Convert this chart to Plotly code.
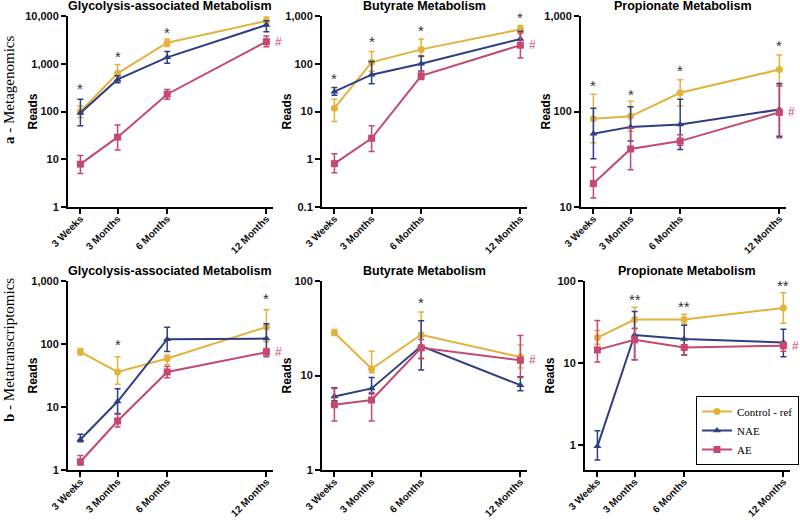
import math
import plotly.graph_objects as go

# ---------------- data ----------------
months = [0.75, 3, 6, 12]
x_labels = ["3 Weeks", "3 Months", "6 Months", "12 Months"]
series_names = ["Control - ref", "NAE", "AE"]
panel_titles = ["Glycolysis-associated Metabolism", "Butyrate Metabolism", "Propionate Metabolism",
                "Glycolysis-associated Metabolism", "Butyrate Metabolism", "Propionate Metabolism"]
row_labels = ["<b>a</b> - Metagenomics", "<b>b</b> - Metatranscriptomics"]

# Panel 1: Glycolysis, metagenomics
p1_ctrl = [100, 630, 2750, 7900];  p1_ctrl_hi = [130, 970, 3300, 9500];  p1_ctrl_lo = [75, 420, 2300, 6500]
p1_nae = [93, 470, 1360, 6500];    p1_nae_hi = [180, 560, 1800, 8000];    p1_nae_lo = [50, 400, 1030, 4700]
p1_ae = [7.9, 29, 230, 2900];      p1_ae_hi = [12, 52, 290, 3800];        p1_ae_lo = [5, 15.6, 180, 2280]
p1_stars = [300, 1400, 4500, 11000]

# Panel 2: Butyrate, metagenomics
p2_ctrl = [11.7, 107, 200, 525];   p2_ctrl_hi = [18, 180, 330, 630];      p2_ctrl_lo = [6.2, 70, 140, 420]
p2_nae = [26, 59, 100, 330];       p2_nae_hi = [32, 112, 145, 480];       p2_nae_lo = [22, 38, 70, 250]
p2_ae = [0.81, 2.75, 56, 245];     p2_ae_hi = [1.3, 5, 70, 450];          p2_ae_lo = [0.52, 1.45, 47, 132]
p2_stars = [49, 290, 500, 920]

# Panel 3: Propionate, metagenomics
p3_ctrl = [84, 89, 157, 275];      p3_ctrl_hi = [152, 128, 215, 390];     p3_ctrl_lo = [47, 62, 114, 190]
p3_nae = [58.5, 69, 73, 105];      p3_nae_hi = [108, 112, 134, 196];      p3_nae_lo = [32, 49, 40, 55]
p3_ae = [17.6, 40.5, 49, 98];      p3_ae_hi = [26, 67, 57, 185];          p3_ae_lo = [12.4, 24.5, 44, 53]
p3_stars = [185, 152, 268, 490]

# Panel 4: Glycolysis, metatranscriptomics
p4_ctrl = [75, 36, 59, 186];       p4_ctrl_hi = [85, 63, 67, 350];        p4_ctrl_lo = [67, 23, 47, 108]
p4_nae = [3.05, 12.2, 119, 122];   p4_nae_hi = [3.7, 19.5, 185, 210];     p4_nae_lo = [2.8, 7.9, 76, 76]
p4_ae = [1.35, 6.0, 36, 74];       p4_ae_hi = [1.7, 7.7, 44, 85];         p4_ae_lo = [1.2, 4.8, 29, 63]
p4_stars = [None, 100, None, 530]

# Panel 5: Butyrate, metatranscriptomics
p5_ctrl = [28.3, 11.8, 27, 15.7];  p5_ctrl_hi = [30.7, 18.1, 47, 21];     p5_ctrl_lo = [26.5, 10.7, 15.4, 12]
p5_nae = [6.0, 7.3, 20.5, 7.9];    p5_nae_hi = [7.4, 9.5, 38, 9.7];       p5_nae_lo = [5.4, 6.4, 11.4, 6.9]
p5_ae = [4.9, 5.5, 19.6, 14.5];    p5_ae_hi = [7.3, 6.6, 24, 26.5];       p5_ae_lo = [3.3, 3.3, 15, 9.5]
p5_stars = [None, None, 59, None]

# Panel 6: Propionate, metatranscriptomics
p6_ctrl = [20.5, 34, 34, 47];      p6_ctrl_hi = [25, 48, 39.4, 72];       p6_ctrl_lo = [17, 26, 30, 30.5]
p6_nae = [0.97, 22, 19.7, 17.8];   p6_nae_hi = [1.5, 42.5, 29, 25.8];     p6_nae_lo = [0.66, 11, 12.6, 12]
p6_ae = [14.5, 19.2, 15.5, 16.3];  p6_ae_hi = [33, 26.5, 16.4, 18];       p6_ae_lo = [10.3, 11, 12.6, 14]
p6_stars = [None, 59, 49, 87]

star_text = ["*", "*", "*", "*", "*", "**"]

y_ranges = [(1, 10000), (0.1, 1000), (10, 1000), (1, 1000), (1, 100), (0.5, 100)]
y_tickvals = [[1, 10, 100, 1000, 10000], [0.1, 1, 10, 100, 1000], [10, 100, 1000],
              [1, 10, 100, 1000], [1, 10, 100], [1, 10, 100]]
y_ticktext = [["1", "10", "100", "1,000", "10,000"], ["0.1", "1", "10", "100", "1,000"],
              ["10", "100", "1,000"], ["1", "10", "100", "1,000"], ["1", "10", "100"], ["1", "10", "100"]]

panels = [
    (p1_ctrl, p1_ctrl_hi, p1_ctrl_lo, p1_nae, p1_nae_hi, p1_nae_lo, p1_ae, p1_ae_hi, p1_ae_lo, p1_stars),
    (p2_ctrl, p2_ctrl_hi, p2_ctrl_lo, p2_nae, p2_nae_hi, p2_nae_lo, p2_ae, p2_ae_hi, p2_ae_lo, p2_stars),
    (p3_ctrl, p3_ctrl_hi, p3_ctrl_lo, p3_nae, p3_nae_hi, p3_nae_lo, p3_ae, p3_ae_hi, p3_ae_lo, p3_stars),
    (p4_ctrl, p4_ctrl_hi, p4_ctrl_lo, p4_nae, p4_nae_hi, p4_nae_lo, p4_ae, p4_ae_hi, p4_ae_lo, p4_stars),
    (p5_ctrl, p5_ctrl_hi, p5_ctrl_lo, p5_nae, p5_nae_hi, p5_nae_lo, p5_ae, p5_ae_hi, p5_ae_lo, p5_stars),
    (p6_ctrl, p6_ctrl_hi, p6_ctrl_lo, p6_nae, p6_nae_hi, p6_nae_lo, p6_ae, p6_ae_hi, p6_ae_lo, p6_stars),
]

# ---------------- styling ----------------
W, H = 800, 521
colors = ["#E3B23C", "#2D3E82", "#C4486F"]
symbols = ["circle", "triangle-up", "square"]
SANS = "Liberation Sans, Arial, sans-serif"
SERIF = "Liberation Serif, Times New Roman, serif"

# pixel boxes: (x0, x1, ytop, ybottom)
boxes = [(68, 273, 16, 207), (322, 527, 16, 207), (581, 786, 16, 207),
         (68, 273, 281, 470), (322, 527, 281, 470), (585, 790, 281, 470)]

fig = go.Figure()
layout = dict(width=W, height=H, margin=dict(l=0, r=0, t=0, b=0, autoexpand=False),
              paper_bgcolor="white", plot_bgcolor="white", showlegend=True)
annotations = []

for i, (box, pdata) in enumerate(zip(boxes, panels)):
    n = i + 1
    xa = "x" if n == 1 else f"x{n}"
    ya = "y" if n == 1 else f"y{n}"
    x0, x1, yt, yb = box
    series = [(pdata[0], pdata[1], pdata[2]), (pdata[3], pdata[4], pdata[5]), (pdata[6], pdata[7], pdata[8])]
    for k, (vals, hi, lo) in enumerate(series):
        fig.add_trace(go.Scatter(
            x=months, y=vals, xaxis=xa, yaxis=ya, mode="lines+markers",
            name=series_names[k], legendgroup=series_names[k], showlegend=(i == 5),
            line=dict(color=colors[k], width=2),
            marker=dict(symbol=symbols[k], size=7, color=colors[k]),
            error_y=dict(type="data", symmetric=False,
                         array=[h - v for h, v in zip(hi, vals)],
                         arrayminus=[v - l for v, l in zip(vals, lo)],
                         color=colors[k], thickness=1.5, width=3),
        ))
    lo_r, hi_r = y_ranges[i]
    layout["xaxis" if n == 1 else f"xaxis{n}"] = dict(
        domain=[x0 / W, x1 / W], anchor=ya, range=[0, 12.4], automargin=False,
        tickvals=months, ticktext=["<b>" + t + "</b>" for t in x_labels], tickangle=-45,
        tickfont=dict(family=SANS, size=10, color="#111"), ticklabelstandoff=-5,
        showline=True, linecolor="black", linewidth=2, ticks="outside",
        ticklen=5, tickwidth=2, tickcolor="black", showgrid=False, zeroline=False)
    layout["yaxis" if n == 1 else f"yaxis{n}"] = dict(
        domain=[1 - yb / H, 1 - yt / H], anchor=xa, type="log", automargin=False,
        range=[math.log10(lo_r), math.log10(hi_r)],
        tickvals=y_tickvals[i], ticktext=["<b>" + t + "</b>" for t in y_ticktext[i]],
        tickfont=dict(family=SANS, size=11, color="#111"),
        showline=True, linecolor="black", linewidth=2, ticks="outside",
        ticklen=5, tickwidth=2, tickcolor="black", showgrid=False, zeroline=False)
    # title
    annotations.append(dict(text="<b>" + panel_titles[i] + "</b>", xref="paper", yref="paper",
                            x=(x0 + 102) / W, y=1 - (yt - 10) / H, xanchor="center", yanchor="middle",
                            showarrow=False, font=dict(family=SANS, size=12.5, color="black")))
    # y title
    annotations.append(dict(text="<b>Reads</b>", xref="paper", yref="paper",
                            x=(x0 - 36) / W, y=1 - ((yt + yb) / 2) / H, xanchor="center", yanchor="middle",
                            textangle=-90, showarrow=False, font=dict(family=SANS, size=12, color="black")))
    # significance marks
    for xm, s in zip(months, pdata[9]):
        if s is not None:
            annotations.append(dict(text=star_text[i], xref=xa, yref=ya, x=xm, y=math.log10(s),
                                    xanchor="center", yanchor="middle", showarrow=False,
                                    font=dict(family=SANS, size=15, color="#333")))
    # '#' next to AE at 12 months
    annotations.append(dict(text="#", xref=xa, yref=ya, x=months[-1], y=math.log10(pdata[6][-1]),
                            xanchor="left", yanchor="middle", xshift=7, showarrow=False,
                            font=dict(family=SANS, size=12, color=colors[2])))

# row labels
annotations.append(dict(text=row_labels[0], xref="paper", yref="paper", x=9 / W, y=1 - 90 / H,
                        xanchor="center", yanchor="middle", textangle=-90, showarrow=False,
                        font=dict(family=SERIF, size=15, color="black")))
annotations.append(dict(text=row_labels[1], xref="paper", yref="paper", x=9 / W, y=1 - 350 / H,
                        xanchor="center", yanchor="middle", textangle=-90, showarrow=False,
                        font=dict(family=SERIF, size=15, color="black")))

layout["annotations"] = annotations
layout["legend"] = dict(x=799 / W, y=1 - 465 / H, xanchor="right", yanchor="bottom",
                        bgcolor="white", bordercolor="black", borderwidth=1,
                        font=dict(family=SERIF, size=11, color="black"),
                        itemwidth=30, tracegroupgap=0)
fig.update_layout(**layout)
fig.write_html("out.html", config={"displayModeBar": False},
               post_script="document.body.style.margin='0';document.body.style.overflow='hidden';")
